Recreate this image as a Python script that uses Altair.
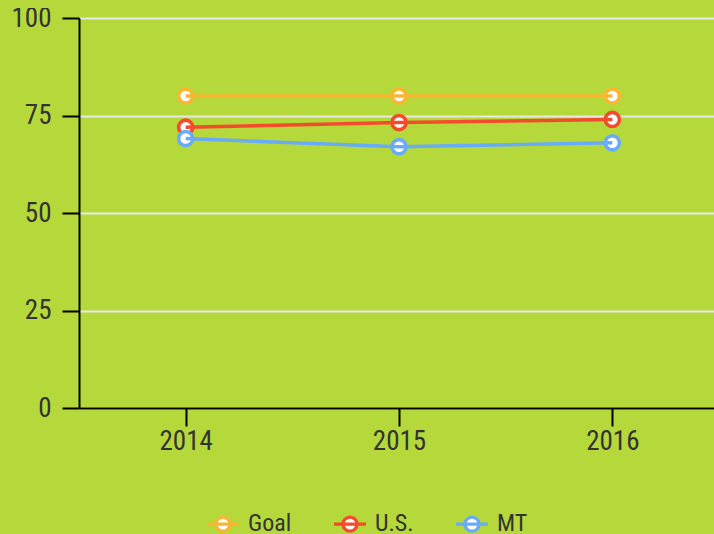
import altair as alt
import pandas as pd

years = ["2014", "2015", "2016"]
series = ["Goal", "U.S.", "MT"]
goal = [80, 80, 80]
us = [72.0, 73.2, 74.0]
mt = [69.1, 67.0, 68.0]
colors = ["#f9b731", "#f44b2c", "#69abf9"]

rows = []
for name, vals in zip(series, [goal, us, mt]):
    for y, v in zip(years, vals):
        rows.append({"year": y, "value": v, "series": name})
df = pd.DataFrame(rows)

BG = "#b5d83b"
FONT = "'Roboto Condensed', 'Liberation Sans Narrow', 'DejaVu Sans Condensed', Roboto, sans-serif"
SYM = "M-1,0L1,0M-0.44,0A0.44,0.44,0,1,1,0.44,0A0.44,0.44,0,1,1,-0.44,0Z"
CSS = "body{margin:8px 0 0 8px;background:" + BG + ";overflow:hidden;} .vega-embed svg{display:block;}"

# page background matches the chart background (no white page margin)
try:
    import altair.utils.html as _html

    class _StyledTemplate:
        def __init__(self, base):
            self.base = base

        def render(self, **kw):
            return self.base.render(**kw).replace(
                "<head>", "<head><style>" + CSS + "</style>", 1
            )

    _html.TEMPLATES["standard"] = _StyledTemplate(_html.TEMPLATES["standard"])
except Exception:
    pass

stroke_enc = alt.Stroke(
    "series:N",
    scale=alt.Scale(domain=series, range=colors),
    legend=alt.Legend(
        title=None,
        orient="none",
        direction="horizontal",
        legendX=126,
        legendY=488,
        symbolType=SYM,
        symbolSize=1024,
        symbolStrokeWidth=3.3,
        symbolFillColor="white",
        symbolOpacity=1,
        labelFont=FONT,
        labelFontSize=24,
        labelColor="#333333",
        labelOffset=7,
        columnPadding=35,
        labelLimit=200,
    ),
)

x_enc = alt.X(
    "year:O",
    scale=alt.Scale(type="point", padding=0.5, range=[0, 640]),
    axis=alt.Axis(
        title=None,
        labelAngle=0,
        labelFont=FONT,
        labelFontSize=27,
        labelColor="#333333",
        labelPadding=2,
        tickSize=18,
        tickColor="black",
        tickWidth=2,
        domainColor="black",
        domainWidth=2,
        grid=False,
    ),
)
y_enc = alt.Y(
    "value:Q",
    scale=alt.Scale(domain=[0, 100], nice=False),
    axis=alt.Axis(
        title=None,
        values=[0, 25, 50, 75, 100],
        labelFont=FONT,
        labelFontSize=27,
        labelColor="#333333",
        labelPadding=11,
        tickSize=17,
        tickColor="black",
        tickWidth=2,
        domainColor="black",
        domainWidth=2,
        gridColor="#e8e8e8",
        gridWidth=2,
    ),
)

points = alt.Chart(df).mark_circle(
    fill="white", fillOpacity=1, opacity=1, size=200, strokeWidth=3.6
).encode(x=x_enc, y=y_enc, stroke=stroke_enc)

lines = alt.Chart(df).mark_line(strokeWidth=3.5).encode(
    x=x_enc, y=y_enc, stroke=stroke_enc, detail="series:N"
)

chart = (
    alt.layer(points, lines)
    .properties(
        width=635,
        height=390,
        background=BG,
        padding={"left": 71, "top": 10, "right": 0, "bottom": 126},
        autosize=alt.AutoSizeParams(type="none"),
    )
    .configure_view(stroke=None)
)

chart.save("out.html", embed_options={"renderer": "svg", "actions": False})
